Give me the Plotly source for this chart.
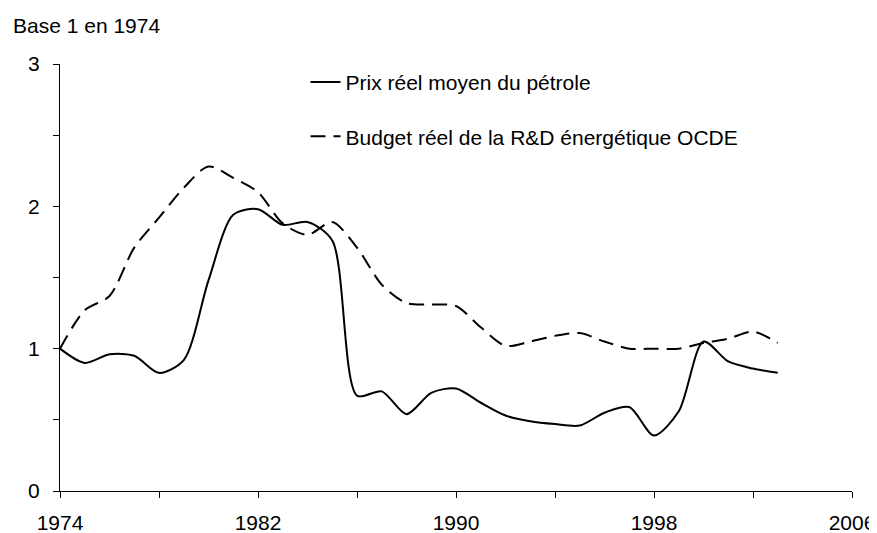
import plotly.graph_objects as go

years = list(range(1974, 2004))
oil_price = [1.00, 0.90, 0.96, 0.95, 0.83, 0.92, 1.48, 1.94, 1.98, 1.87, 1.89, 1.76,
             0.67, 0.70, 0.54, 0.69, 0.72, 0.62, 0.53, 0.49, 0.47, 0.46, 0.55, 0.59,
             0.39, 0.56, 1.05, 0.91, 0.86, 0.83]
rd_budget = [1.00, 1.27, 1.37, 1.71, 1.92, 2.13, 2.28, 2.20, 2.10, 1.88, 1.80, 1.89,
             1.71, 1.45, 1.32, 1.31, 1.30, 1.15, 1.02, 1.05, 1.09, 1.11, 1.05, 1.00,
             1.00, 1.00, 1.04, 1.07, 1.12, 1.04]
x_ticks = [1974, 1982, 1990, 1998, 2006]
x_minor = [1978, 1986, 1994, 2002]
y_ticks = [0, 1, 2, 3]
y_minor = [0.5, 1.5, 2.5]

font_family = "Liberation Sans, Arial, sans-serif"

fig = go.Figure()
fig.add_trace(go.Scatter(
    x=years, y=oil_price, mode="lines", name="Prix réel moyen du pétrole",
    line=dict(color="black", width=2, shape="spline", smoothing=0.8),
    legendgroup="a",
))
fig.add_trace(go.Scatter(
    x=years, y=rd_budget, mode="lines", name="Budget réel de la R&D énergétique OCDE",
    line=dict(color="black", width=2, shape="spline", smoothing=0.8, dash="15px,8px"),
    legendgroup="b",
))

fig.update_layout(
    width=869, height=525,
    margin=dict(l=52, r=25, t=56, b=42),
    plot_bgcolor="white", paper_bgcolor="white",
    font=dict(family=font_family, size=21, color="black"),
    showlegend=True,
    legend=dict(
        x=0.31, y=1.005, xanchor="left", yanchor="top",
        bgcolor="rgba(0,0,0,0)", font=dict(size=21, color="black"),
        tracegroupgap=24, traceorder="grouped",
    ),
    xaxis=dict(
        range=[1974, 2006], tickvals=x_ticks, ticktext=[str(t) for t in x_ticks],
        showgrid=False, zeroline=False, showline=True, linecolor="black", linewidth=1,
        ticks="outside", ticklen=6, tickcolor="black", automargin=False,
        ticklabelstandoff=7,
        minor=dict(tickvals=x_minor, ticks="outside", ticklen=6, tickcolor="black"),
        tickfont=dict(size=21),
    ),
    yaxis=dict(
        range=[0, 3], tickvals=y_ticks,
        showgrid=False, zeroline=False, showline=True, linecolor="black", linewidth=1,
        ticks="outside", ticklen=6, tickcolor="black", automargin=False,
        ticklabelstandoff=9,
        minor=dict(tickvals=y_minor, ticks="outside", ticklen=6, tickcolor="black"),
        tickfont=dict(size=21),
    ),
    annotations=[dict(
        text="Base 1 en 1974", xref="paper", yref="paper", x=-0.062, y=1.089,
        xanchor="left", yanchor="middle", showarrow=False, font=dict(size=21),
    )],
)

fig.write_html("out.html")
